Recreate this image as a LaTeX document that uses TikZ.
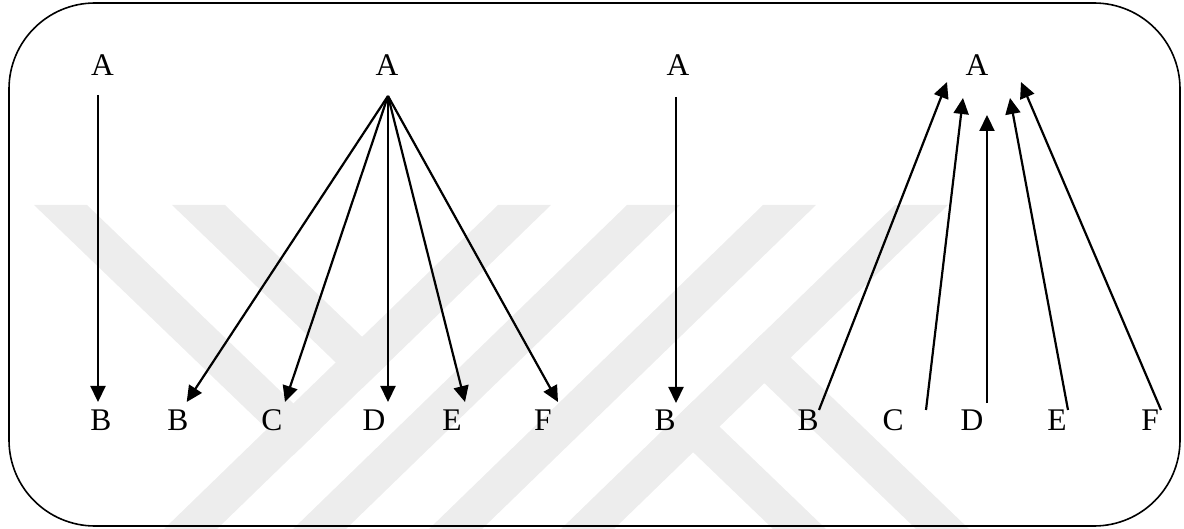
\documentclass[tikz,border=0pt]{standalone}
\usepackage{fontspec}
\setmainfont{Liberation Serif}
\usetikzlibrary{arrows.meta}
\definecolor{wm}{RGB}{237,237,237}
\begin{document}
\begin{tikzpicture}[x=1pt,y=-1pt,
  lbl/.style={inner sep=0pt, font=\fontsize{31.5}{36}\selectfont},
  arr/.style={line width=2.2pt, -{Triangle[length=16pt,width=15pt]}},
  frame/.style={line width=1.6pt, rounded corners=86pt}]
\useasboundingbox (0,0) rectangle (1184,529);
% watermark
\fill[wm] (498,205) -- (551,205) -- (217,529) -- (164,529) -- cycle;
\fill[wm] (627,205) -- (680,205) -- (346,529) -- (293,529) -- cycle;
\fill[wm] (763,205) -- (816,205) -- (482,529) -- (429,529) -- cycle;
\fill[wm] (895,205) -- (948,205) -- (614,529) -- (561,529) -- cycle;
\fill[wm] (34,205) -- (87,205) -- (320.1,429.2) -- (293.8,454.8) -- cycle;
\fill[wm] (172,205) -- (225,205) -- (388.8,362.5) -- (362.4,388.1) -- cycle;
\fill[wm] (666.6,426.7) -- (693.0,401.1) -- (826,529) -- (773,529) -- cycle;
\fill[wm] (737.8,357.6) -- (764.1,332.0) -- (969,529) -- (916,529) -- cycle;
% frame
\draw[frame] (9,3) rectangle (1180,526);
% diagram 1
\node[lbl] (a1) at (102.5,65) {A};
\node[lbl] (b1) at (101,420) {B};
\coordinate (a1s) at (98,95);
\coordinate (b1t) at (98,402);
\draw[arr] (a1s) -- (b1t);
% diagram 2
\node[lbl] (a2) at (387,65) {A};
\node[lbl] (b2) at (178,420) {B};
\node[lbl] (c2) at (272,420) {C};
\node[lbl] (d2) at (374,420) {D};
\node[lbl] (e2) at (452,420) {E};
\node[lbl] (f2) at (543,420) {F};
\coordinate (a2s) at (388,96);
\coordinate (b2t) at (186.7,402);
\coordinate (c2t) at (285,402);
\coordinate (d2t) at (388,402);
\coordinate (e2t) at (465,402);
\coordinate (f2t) at (558,402);
\draw[arr] (a2s) -- (b2t);
\draw[arr] (a2s) -- (c2t);
\draw[arr] (a2s) -- (d2t);
\draw[arr] (a2s) -- (e2t);
\draw[arr] (a2s) -- (f2t);
% diagram 3
\node[lbl] (a3) at (678,65) {A};
\node[lbl] (b3) at (665,420) {B};
\coordinate (a3s) at (676,97);
\coordinate (b3t) at (676,403);
\draw[arr] (a3s) -- (b3t);
% diagram 4
\node[lbl] (a4) at (977,65) {A};
\node[lbl] (b4) at (808,420) {B};
\node[lbl] (c4) at (893,420) {C};
\node[lbl] (d4) at (972,420) {D};
\node[lbl] (e4) at (1057,420) {E};
\node[lbl] (f4) at (1150,420) {F};
\coordinate (b4s) at (819,410);
\coordinate (c4s) at (926,410);
\coordinate (d4s) at (987,403);
\coordinate (e4s) at (1068,410);
\coordinate (f4s) at (1161,410);
\coordinate (b4t) at (947,82);
\coordinate (c4t) at (963,98);
\coordinate (d4t) at (987,115);
\coordinate (e4t) at (1010,98);
\coordinate (f4t) at (1021,82);
\draw[arr] (b4s) -- (b4t);
\draw[arr] (c4s) -- (c4t);
\draw[arr] (d4s) -- (d4t);
\draw[arr] (e4s) -- (e4t);
\draw[arr] (f4s) -- (f4t);
\end{tikzpicture}
\end{document}
